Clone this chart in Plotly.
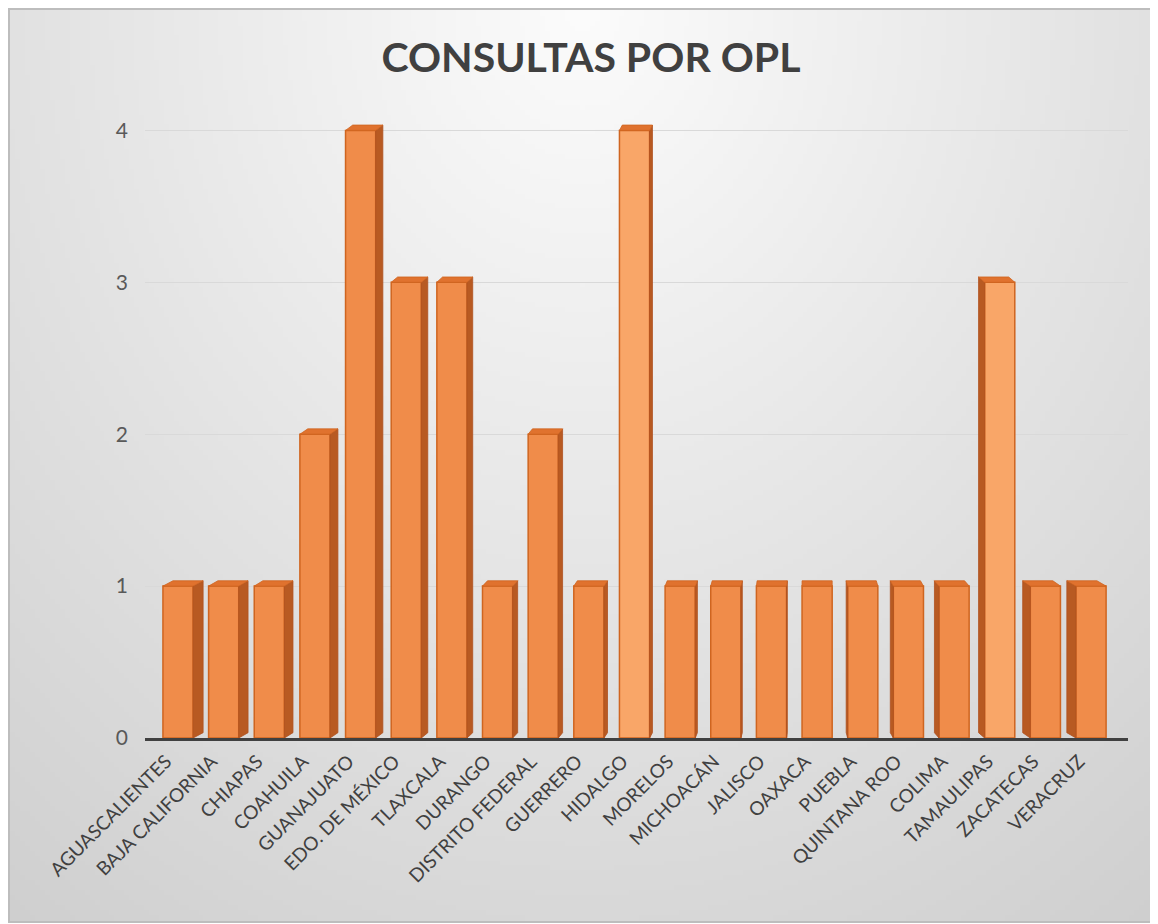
import base64, struct, zlib
import numpy as np
import plotly.graph_objects as go

# ---------------- data ----------------
estados = ["AGUASCALIENTES", "BAJA CALIFORNIA", "CHIAPAS", "COAHUILA", "GUANAJUATO",
           "EDO. DE MÉXICO", "TLAXCALA", "DURANGO", "DISTRITO FEDERAL", "GUERRERO",
           "HIDALGO", "MORELOS", "MICHOACÁN", "JALISCO", "OAXACA", "PUEBLA",
           "QUINTANA ROO", "COLIMA", "TAMAULIPAS", "ZACATECAS", "VERACRUZ"]
consultas = [1, 1, 1, 2, 4, 3, 3, 1, 2, 1, 4, 1, 1, 1, 1, 1, 1, 1, 3, 1, 1]
y_ticks = [0, 1, 2, 3, 4]
titulo = "CONSULTAS POR OPL"

# ---------------- layout geometry (page has an 8px body margin) ----------------
W, H = 1150, 916
L, R, T, B = 137, 30, 92, 186
pw, ph = W - L - R, H - T - B
x_range = [-0.723, 20.81]
y_range = [0, 4.2]

# ---------------- background gradient png ----------------
def gray_png(arr):
    h, w = arr.shape
    raw = b"".join(b"\x00" + bytes(row) for row in arr.astype(np.uint8))
    def chunk(t, d):
        c = struct.pack(">I", len(d)) + t + d
        return c + struct.pack(">I", zlib.crc32(t + d) & 0xffffffff)
    png = b"\x89PNG\r\n\x1a\n"
    png += chunk(b"IHDR", struct.pack(">IIBBBBB", w, h, 8, 0, 0, 0, 0))
    png += chunk(b"IDAT", zlib.compress(raw, 9))
    png += chunk(b"IEND", b"")
    return "data:image/png;base64," + base64.b64encode(png).decode()

gw, gh = 232, 185
xs = (np.arange(gw) + 0.5) / gw
ys = (np.arange(gh) + 0.5) / gh
X, Y = np.meshgrid(xs, ys)
rr = np.sqrt(((X - 0.5) / 0.5 / 1.35) ** 2 + (Y / 1.0) ** 2)
grad = np.clip(252 - 36 * rr, 0, 255)
bg_src = gray_png(grad)

# frame
fx0, fx1, fy0, fy1 = 0, W - 2, 0, H - 2
def px_to_paper_x(px):
    return (px - L) / pw
def px_to_paper_y(py):
    return 1 - (py - T) / ph

fig = go.Figure()

# ---------------- 3D-ish bars ----------------
bar_w = 0.66
front_cols = ["#F08C4A"] * len(estados)
for i, name in enumerate(estados):
    if name in ("HIDALGO", "TAMAULIPAS"):
        front_cols[i] = "#F9A668"

fig.add_trace(go.Bar(
    x=list(range(len(estados))), y=consultas, width=bar_w,
    marker=dict(color=front_cols, line=dict(color="#CF6520", width=1.5)),
    hoverinfo="skip", showlegend=False,
))

dy = 0.035
for i, v in enumerate(consultas):
    c0 = 14
    if i < c0:
        dx = 0.22 * (c0 - i) / c0
    else:
        dx = -0.20 * (i - c0) / (len(consultas) - 1 - c0)
    xl, xr = i - bar_w / 2, i + bar_w / 2
    if abs(dx) > 0.01:
        xe = xr if dx > 0 else xl
        fig.add_trace(go.Scatter(
            x=[xe, xe + dx, xe + dx, xe, xe],
            y=[0, dy, v + dy, v, 0],
            mode="lines", fill="toself", fillcolor="#B85A22",
            line=dict(color="#B05020", width=0.8),
            hoverinfo="skip", showlegend=False))
    fig.add_trace(go.Scatter(
        x=[xl, xl + dx, xr + dx, xr, xl],
        y=[v, v + dy, v + dy, v, v],
        mode="lines", fill="toself", fillcolor="#E0722E",
        line=dict(color="#CF6520", width=0.8),
        hoverinfo="skip", showlegend=False))

fig.update_layout(
    width=W, height=H,
    margin=dict(l=L, r=R, t=T, b=B),
    paper_bgcolor="white",
    plot_bgcolor="rgba(0,0,0,0)",
    title=dict(text=titulo, x=583 / W, xanchor="center", y=1 - 50 / H, yanchor="middle",
               font=dict(family="Lato", size=41, color="#404040", weight="bold")),
    images=[dict(source=bg_src, xref="paper", yref="paper",
                 x=px_to_paper_x(fx0), y=px_to_paper_y(fy0),
                 sizex=(fx1 - fx0) / pw, sizey=(fy1 - fy0) / ph,
                 xanchor="left", yanchor="top", sizing="stretch", layer="below")],
    shapes=[dict(type="rect", xref="paper", yref="paper",
                 x0=px_to_paper_x(fx0 + 1), x1=px_to_paper_x(fx1),
                 y0=px_to_paper_y(fy1), y1=px_to_paper_y(fy0 + 1),
                 line=dict(color="#BDBDBD", width=2), layer="below")],
    xaxis=dict(range=x_range, tickmode="array", tickvals=list(range(len(estados))),
               ticktext=estados, tickangle=-45, showgrid=False, zeroline=False,
               showline=True, linecolor="#404040", linewidth=3,
               ticks="", ticklabelstandoff=2, ticklabelshift=-12,
               tickfont=dict(family="Lato", size=19, color="#404040")),
    yaxis=dict(range=y_range, tickmode="array", tickvals=y_ticks,
               showgrid=True, gridcolor="#D9D9D9", gridwidth=1, zeroline=False,
               showline=False, ticks="", ticklabelstandoff=16,
               tickfont=dict(family="Lato", size=21, color="#595959")),
)

fig.write_html("out.html")
